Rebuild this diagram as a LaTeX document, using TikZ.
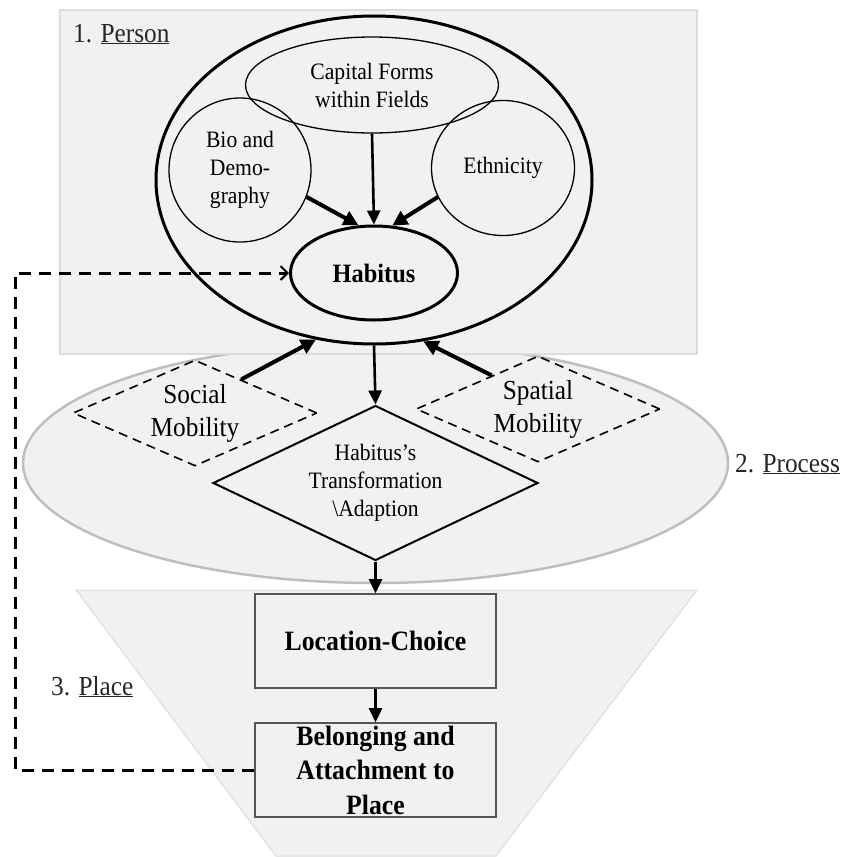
\documentclass[tikz,border=0pt]{standalone}
\usepackage{fontspec}
\setmainfont{Liberation Serif}[FakeStretch=0.92]
\usetikzlibrary{shapes.geometric, arrows.meta, positioning}

\definecolor{panelfill}{RGB}{241,241,241}
\definecolor{paneledge}{RGB}{220,220,220}
\definecolor{procedge}{RGB}{190,190,190}
\definecolor{boxedge}{RGB}{85,85,85}

\begin{document}
\begin{tikzpicture}[x=1pt, y=-1pt,
  txt/.style={font=\fontsize{23.5}{28}\selectfont, align=center},
  thinell/.style={draw, ellipse, line width=1.3pt, inner sep=0pt, txt},
  thickell/.style={draw, ellipse, line width=3pt, inner sep=0pt},
  mobility/.style={draw, diamond, dash pattern=on 9pt off 6pt, line width=1.6pt, inner sep=0pt, aspect=2.3, minimum width=244pt, minimum height=106pt, font=\fontsize{27.5}{33}\selectfont, align=center},
  stagebox/.style={draw=boxedge, fill=panelfill, line width=1.6pt, minimum width=241pt, minimum height=94pt, inner sep=0pt, font=\bfseries\fontsize{28}{34.5}\selectfont, align=center},
  seclab/.style={anchor=base west, font=\fontsize{27.5}{30}\selectfont, text=black!85, inner sep=0pt},
  arrow/.style={-{Triangle[length=14pt, width=13pt]}, line width=2.6pt},
  fatarrow/.style={-{Triangle[length=15pt, width=15pt]}, line width=4pt},
  feedback/.style={-{Straight Barb[length=7pt, width=14pt, line width=2pt]}, line width=3pt, dash pattern=on 12pt off 8pt}
]
\useasboundingbox (0,0) rectangle (845,857);

% 2. PROCESS (drawn first, the person panel hides its top)
\node[ellipse, draw=procedge, fill=panelfill, line width=2.5pt, minimum width=705pt, minimum height=240pt] (process) at (375.5,463) {};

% 1. PERSON
\node[draw=paneledge, fill=panelfill, line width=2pt, minimum width=637pt, minimum height=344pt] (personbox) at (378.5,182) {};
\node[seclab] (personlab) at (73,42) {1. \underline{Person}};

\node[thickell, minimum width=436pt, minimum height=328pt] (person) at (374,180) {};
\node[thinell, minimum width=253pt, minimum height=96pt] (capital) at (372,85) {Capital Forms\\within Fields};
\node[thinell, minimum width=142pt, minimum height=144pt] (bio) at (240,170) {Bio and\\Demo-\\graphy};
\node[thinell, minimum width=143pt, minimum height=135pt] (ethnic) at (503,168) {Ethnicity};
\node[thickell, minimum width=167pt, minimum height=94pt, font=\bfseries\fontsize{26.5}{30}\selectfont] (habitus) at (374,273) {Habitus};

\draw[arrow] (capital.south) -- (habitus.north);
\draw[fatarrow] (bio.338) -- (habitus.108);
\draw[fatarrow] (ethnic.204) -- (habitus.69);

% process nodes
\node[seclab] (processlab) at (735,472) {2. \underline{Process}};
\node[mobility] (social) at (195,413) {Social\\Mobility};
\node[mobility] (spatial) at (538,409) {Spatial\\Mobility};
\node[draw, diamond, line width=2pt, aspect=2.1, inner sep=0pt, minimum width=325pt, minimum height=155pt, txt] (trans) at (375.5,483) {Habitus's\\Transformation\\\textbackslash Adaption};

\draw[fatarrow] (social.36) -- (person.250);
\draw[fatarrow] (spatial.144) -- (person.287);
\draw[arrow] (person.south) -- (trans.north);

% 3. PLACE
\draw[draw=paneledge, fill=panelfill, line width=1pt] (76,590) -- (697,590) -- (496,856) -- (276,856) -- cycle;
\node[seclab] (placelab) at (51,695) {3. \underline{Place}};
\node[stagebox] (loc) at (375.5,641) {Location-Choice};
\node[stagebox] (belong) at (375.5,770) {Belonging and\\Attachment to\\Place};

\draw[arrow] (trans.south) -- (loc.north);
\draw[arrow] (loc.south) -- (belong.north);

% feedback loop
\coordinate (loopx) at (15,0);
\draw[feedback] (belong.west) -- (belong.west -| loopx) |- (habitus.west);

\end{tikzpicture}
\end{document}
